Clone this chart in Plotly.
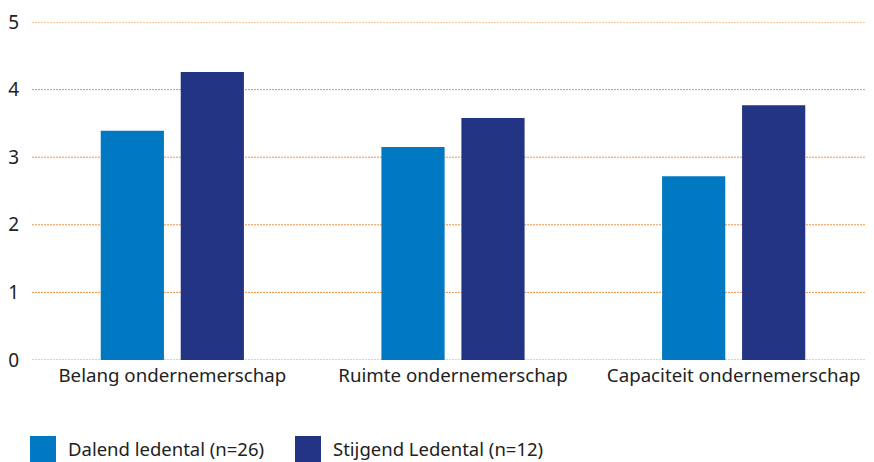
import plotly.graph_objects as go

categories = ["Belang ondernemerschap", "Ruimte ondernemerschap", "Capaciteit ondernemerschap"]
dalend = [3.39, 3.15, 2.72]
stijgend = [4.26, 3.58, 3.77]
series_names = ["Dalend ledental (n=26)", "Stijgend Ledental (n=12)"]
colors = ["#0079c2", "#243485"]
y_ticks = [0, 1, 2, 3, 4, 5]

# the page body adds an 8px offset, so the figure is laid out in shifted coordinates
OFF = 8
W, H = 874 - OFF, 462 - OFF
ML, MR, MT, MB = 32 - OFF, 0, 22 - OFF, 462 - 360
PW, PH = W - ML - MR, H - MT - MB

fig = go.Figure()
fig.add_trace(go.Bar(x=categories, y=dalend, name=series_names[0], marker_color=colors[0],
                     marker_line_width=0, showlegend=False))
fig.add_trace(go.Bar(x=categories, y=stijgend, name=series_names[1], marker_color=colors[1],
                     marker_line_width=0, showlegend=False))

font_family = "Noto Sans, DejaVu Sans, sans-serif"
fig.update_layout(
    width=W, height=H,
    margin=dict(l=ML, r=MR, t=MT, b=MB, autoexpand=False),
    paper_bgcolor="white", plot_bgcolor="white",
    barmode="group", bargap=0.43, bargroupgap=0.21,
    font=dict(family=font_family, size=18, color="#222222"),
    xaxis=dict(showgrid=False, showline=False, ticks="", automargin=False,
               tickfont=dict(size=18.7), ticklabelstandoff=2),
    yaxis=dict(range=[0, 5], tickvals=y_ticks, showgrid=False, zeroline=False,
               showline=False, ticks="", automargin=False, ticklabelstandoff=12,
               tickfont=dict(size=19)),
)

# dotted orange gridlines (drawn below the bars)
for v in y_ticks:
    fig.add_shape(type="line", xref="paper", yref="y", x0=0, x1=1, y0=v, y1=v,
                  line=dict(color="#f29240", width=1, dash="2px,1px"), layer="below")

# custom legend with large squares (page pixel positions)
legend_x = [30, 295]
def px_x(p):
    return (p - OFF - ML) / PW
def px_y(p):
    return (H - MB - (p - OFF)) / PH
for i, name in enumerate(series_names):
    fig.add_shape(type="rect", xref="paper", yref="paper",
                  x0=px_x(legend_x[i]), x1=px_x(legend_x[i] + 26),
                  y0=px_y(462), y1=px_y(436),
                  fillcolor=colors[i], line_width=0)
    fig.add_annotation(xref="paper", yref="paper", x=px_x(legend_x[i] + 36),
                       y=px_y(448), text=name, showarrow=False,
                       xanchor="left", yanchor="middle", font=dict(size=18.5, color="#222222"))

fig.write_html("out.html")
